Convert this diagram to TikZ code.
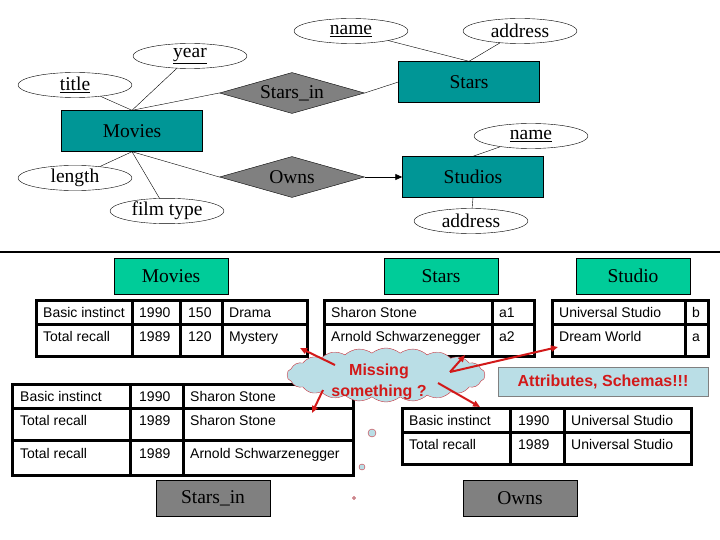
\documentclass[tikz,border=0pt]{standalone}
\usepackage{fontspec}
\setmainfont{Liberation Serif}
\newfontfamily\arialfont{Liberation Sans}
\usetikzlibrary{shapes.geometric,shapes.symbols,arrows.meta}
\definecolor{erteal}{RGB}{0,150,150}
\definecolor{hdrgreen}{RGB}{0,204,153}
\definecolor{relgray}{RGB}{128,128,128}
\definecolor{cloudblue}{RGB}{186,222,230}
\definecolor{warnred}{RGB}{210,25,25}
\definecolor{cloudline}{RGB}{200,50,60}
\newcommand{\erfont}{\fontsize{19.5}{21}\selectfont}
\newcommand{\cellfont}{\arialfont\fontsize{14}{15}\selectfont}
\newcommand{\warnfont}{\arialfont\bfseries\fontsize{16}{21}\selectfont}
\tikzset{
  entity/.style={draw, fill=erteal, minimum width=141pt, minimum height=41pt, inner sep=0pt, font=\erfont},
  relship/.style={draw, diamond, fill=relgray, aspect=3.5, minimum width=145pt, minimum height=41pt, inner sep=0pt, font=\erfont},
  attrib/.style={draw, ellipse, minimum width=114pt, minimum height=25pt, inner sep=0pt, font=\erfont},
  hdrbox/.style={draw, fill=hdrgreen, minimum width=114pt, minimum height=36pt, inner sep=0pt, font=\erfont},
  relbox/.style={draw, fill=relgray, minimum width=114pt, minimum height=36pt, inner sep=0pt, font=\erfont},
  cell/.style={anchor=base west, yshift=-5pt, inner sep=0pt, font=\cellfont},
  grid/.style={line width=3pt},
  hint/.style={draw=warnred, line width=2pt, -{Triangle[length=7pt,width=6pt]}, fill=warnred},
  bubble/.style={draw=cloudline, fill=cloudblue},
}
\begin{document}
\begin{tikzpicture}[x=1pt,y=-1pt]
\useasboundingbox (0,0) rectangle (720,540);
% schema E/R
\node[entity] (movies) at (132,131) {Movies};
\node[entity] (stars) at (469,82) {Stars};
\node[entity] (studios) at (473,177) {Studios};
\node[relship] (starsin) at (292,93) {Stars\_in};
\node[relship] (owns) at (292,177) {Owns};
\node[attrib] (year) at (190,56) {\underline{year}};
\node[attrib] (title) at (75,85) {\underline{title}};
\node[attrib] (length) at (75,178) {length};
\node[attrib] (filmtype) at (167,211) {film type};
\node[attrib] (starname) at (351,31) {\underline{name}};
\node[attrib] (staraddr) at (520,31) {address};
\node[attrib] (studname) at (531,136) {\underline{name}};
\node[attrib] (studaddr) at (471,221) {address};
\draw (title) -- (movies.north);
\draw (year) -- (movies.north);
\draw (starsin.west) -- (movies.north);
\draw (length) -- (movies.south);
\draw (filmtype) -- (movies.south);
\draw (owns.west) -- (movies.south);
\draw (starsin.east) -- (stars.west);
\draw (starname) -- (stars.north);
\draw (staraddr) -- (stars.north);
\draw[thick, -{Triangle[length=7pt,width=6pt]}] (owns.east) -- (studios.west);
\draw (studname) -- (studios.north);
\draw (studios.south) -- (studaddr);
% separatore
\draw[line width=1.5pt] (0,252) -- (720,252);
% intestazioni
\node[hdrbox] (movhdr) at (171,276) {Movies};
\node[hdrbox] (starhdr) at (441,276) {Stars};
\node[hdrbox] (studhdr) at (633,276) {Studio};
\node[relbox] (starsinhdr) at (213,498) {Stars\_in};
\node[relbox] (ownshdr) at (520,498) {Owns};
% tabella Movies
\draw[grid] (36,300) rectangle (307,356);
\draw[grid] (36,324) -- (307,324);
\draw[grid] (132,300) -- (132,356) (180,300) -- (180,356) (222,300) -- (222,356);
\node[cell] (m11) at (43,312) {Basic instinct};
\node[cell] (m12) at (139,312) {1990};
\node[cell] (m13) at (188,312) {150};
\node[cell] (m14) at (229,312) {Drama};
\node[cell] (m21) at (43,336) {Total recall};
\node[cell] (m22) at (139,336) {1989};
\node[cell] (m23) at (188,336) {120};
\node[cell] (m24) at (229,336) {Mystery};
% tabella Stars
\draw[grid] (324,300) rectangle (534,356);
\draw[grid] (324,324) -- (534,324);
\draw[grid] (492,300) -- (492,356);
\node[cell] (s11) at (331,312) {Sharon Stone};
\node[cell] (s12) at (499,312) {a1};
\node[cell] (s21) at (331,336) {Arnold Schwarzenegger};
\node[cell] (s22) at (499,336) {a2};
% tabella Studio
\draw[grid] (552,300) rectangle (708,356);
\draw[grid] (552,324) -- (708,324);
\draw[grid] (685,300) -- (685,356);
\node[cell] (u11) at (559,312) {Universal Studio};
\node[cell] (u12) at (692,312) {b};
\node[cell] (u21) at (559,336) {Dream World};
\node[cell] (u22) at (692,336) {a};
% tabella Stars_in
\draw[grid] (12,384) rectangle (353,475);
\draw[grid] (12,408) -- (353,408) (12,440) -- (353,440);
\draw[grid] (130,384) -- (130,475) (183,384) -- (183,475);
\node[cell] (i11) at (20,396) {Basic instinct};
\node[cell] (i12) at (139,396) {1990};
\node[cell] (i13) at (190,396) {Sharon Stone};
\node[cell] (i21) at (20,420) {Total recall};
\node[cell] (i22) at (139,420) {1989};
\node[cell] (i23) at (190,420) {Sharon Stone};
\node[cell] (i31) at (20,453) {Total recall};
\node[cell] (i32) at (139,453) {1989};
\node[cell] (i33) at (190,453) {Arnold Schwarzenegger};
% tabella Owns
\draw[grid] (402,408) rectangle (691,464);
\draw[grid] (402,432) -- (691,432);
\draw[grid] (510,408) -- (510,464) (564,408) -- (564,464);
\node[cell] (o11) at (409,420) {Basic instinct};
\node[cell] (o12) at (518,420) {1990};
\node[cell] (o13) at (571,420) {Universal Studio};
\node[cell] (o21) at (409,444) {Total recall};
\node[cell] (o22) at (518,444) {1989};
\node[cell] (o23) at (571,444) {Universal Studio};
% nuvoletta
\node[cloud, cloud puffs=22, cloud puff arc=80, aspect=3.6, bubble, minimum width=198pt, minimum height=54pt, inner sep=0pt] (cloud) at (386,375) {};
\node[font=\warnfont, text=warnred, align=center, inner sep=0pt] (missing) at (379,382) {Missing\\something ?};
\draw[bubble] (372,433) circle (4pt);
\draw[bubble] (362,467) circle (3pt);
\draw[bubble] (354,498) circle (1.5pt);
\node[draw=gray, fill=cloudblue, minimum width=210pt, minimum height=29pt, inner sep=0pt, font=\warnfont, text=warnred] (schemas) at (603,381.5) {Attributes, Schemas!!!};
% frecce
\coordinate (fromA) at (335,365);
\coordinate (toMov) at (300,348);
\coordinate (fromB) at (323,390);
\coordinate (toStarsin) at (312,413);
\coordinate (fromC) at (450,372);
\coordinate (toStars) at (465,355);
\coordinate (toStudio) at (558,347);
\coordinate (fromD) at (438,383);
\coordinate (toOwns) at (480,407);
\draw[hint] (fromA) -- (toMov);
\draw[hint] (fromB) -- (toStarsin);
\draw[hint] (fromC) -- (toStars);
\draw[hint] (fromC) -- (toStudio);
\draw[hint] (fromD) -- (toOwns);
\end{tikzpicture}
\end{document}
